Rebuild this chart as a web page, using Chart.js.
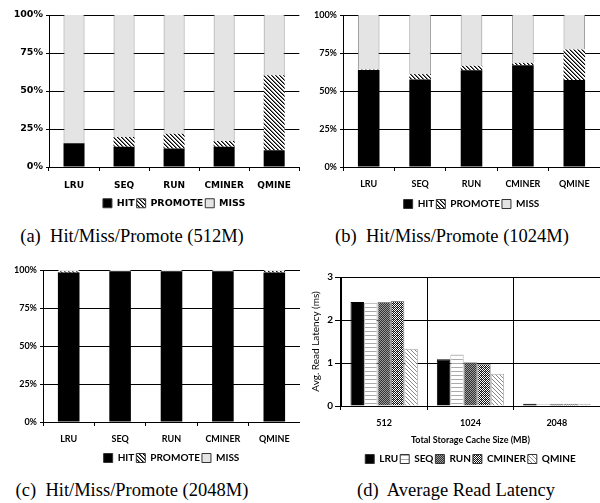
<!DOCTYPE html>
<html><head><meta charset="utf-8">
<script src="https://cdn.jsdelivr.net/npm/chart.js@4"></script>
<style>
body{margin:0;background:#fff;width:600px;height:503px;position:relative;overflow:hidden}
canvas{position:absolute}
.cap{position:absolute;font-family:"Liberation Serif","Times New Roman",serif;font-size:18.5px;color:#000;white-space:nowrap;transform:translate(-50%,-50%)}
</style></head><body>
<canvas id="ca" width="300" height="218" style="left:0;top:0"></canvas>
<canvas id="cb" width="300" height="219" style="left:300px;top:0"></canvas>
<canvas id="cc" width="300" height="218" style="left:0;top:255px"></canvas>
<canvas id="cd" width="300" height="219" style="left:300px;top:255px"></canvas>
<div class="cap" style="left:132px;top:236px">(a)&nbsp; Hit/Miss/Promote (512M)</div>
<div class="cap" style="left:452px;top:236px">(b)&nbsp; Hit/Miss/Promote (1024M)</div>
<div class="cap" style="left:132px;top:490px">(c)&nbsp; Hit/Miss/Promote (2048M)</div>
<div class="cap" style="left:456px;top:490px">(d)&nbsp; Average Read Latency</div>
<script>
// ---- data ----
const policies = ['LRU','SEQ','RUN','CMINER','QMINE'];
const pctTicks = ['0%','25%','50%','75%','100%'];
const hit512     = [15.6, 13.4, 12.1, 13.4, 11.0];
const promote512 = [0.0,  6.3,  9.8,  3.7, 49.3];
const miss512    = [84.4, 80.3, 78.1, 82.9, 39.7];
const hit1024     = [63.8, 57.6, 63.6, 67.0, 57.2];
const promote1024 = [0.3,  3.5,  3.0,  1.5, 20.1];
const miss1024    = [35.9, 38.9, 33.4, 31.5, 22.7];
const hit2048     = [98.3, 99.2, 99.2, 99.2, 98.4];
const promote2048 = [0.8,  0.0,  0.0,  0.0,  0.9];
const miss2048    = [0.9,  0.8,  0.8,  0.8,  0.7];
const cacheSizes = ['512','1024','2048'];
const latTicks = ['0','1','2','3'];
const latLRU    = [2.42, 1.09, 0.05];
const latSEQ    = [2.40, 1.20, 0.04];
const latRUN    = [2.42, 1.02, 0.05];
const latCMINER = [2.44, 0.98, 0.05];
const latQMINE  = [1.33, 0.75, 0.05];

// ---- patterns ----
function pat(w,h,draw){const c=document.createElement('canvas');c.width=w;c.height=h;const g=c.getContext('2d');draw(g);return g.createPattern(c,'repeat');}
const hatch = pat(4,4,g=>{g.fillStyle='#fff';g.fillRect(0,0,4,4);for(let i=0;i<4;i++){g.fillStyle='#000';g.fillRect(i,i,1,1);g.fillStyle='#777';g.fillRect((i+1)%4,i,1,1);}});
const seqPat = pat(4,4,g=>{g.fillStyle='#fff';g.fillRect(0,0,4,4);g.fillStyle='#aaa';g.fillRect(0,0,4,1);});
const runPat = pat(2,2,g=>{g.fillStyle='#9a9a9a';g.fillRect(0,0,2,2);g.fillStyle='#333';g.fillRect(0,0,1,1);g.fillRect(1,1,1,1);});
const cmPat = pat(4,4,g=>{g.fillStyle='#fff';g.fillRect(0,0,4,4);g.fillStyle='#111';g.fillRect(0,0,1,1);g.fillRect(2,0,1,1);g.fillRect(1,1,1,1);g.fillRect(3,1,1,1);g.fillRect(0,2,1,1);g.fillRect(2,2,1,1);g.fillRect(3,3,1,1);g.fillRect(1,3,1,1);g.fillStyle='#888';g.fillRect(1,0,1,1);});
const qPat = pat(4,4,g=>{g.fillStyle='#fff';g.fillRect(0,0,4,4);g.fillStyle='#888';for(let i=0;i<4;i++)g.fillRect(i,i,1,1);});

function genLabels(chart){
  const items = Chart.defaults.plugins.legend.labels.generateLabels(chart);
  items.forEach(it=>{it.lineWidth=1;it.strokeStyle='#333';});
  return items;
}

// horizontal grid lines at the y scale's tick positions, drawn in the gaps between the bars
const yGrid = {id:'ygrid', afterDraw(chart){
  const {ctx, chartArea:a} = chart; const y = chart.scales.y;
  const bars = chart.getDatasetMeta(0).data.map(el=>{const p=el.getProps(['x','width'],true);return [p.x-p.width/2, p.x+p.width/2];}).sort((m,n)=>m[0]-n[0]);
  const segs=[]; let cur=a.left;
  bars.forEach(b=>{segs.push([cur,b[0]]); cur=b[1];}); segs.push([cur,a.right]);
  ctx.save(); ctx.strokeStyle='#000'; ctx.lineWidth=1; ctx.setLineDash([]); ctx.globalAlpha=1; ctx.globalCompositeOperation='source-over';
  y.ticks.forEach(t=>{const py=Math.round(y.getPixelForValue(t.value))+0.5;
    ctx.beginPath(); segs.forEach(s=>{ctx.moveTo(s[0],py); ctx.lineTo(s[1],py);}); ctx.stroke();});
  ctx.restore();
}};

function hmp(id, hit, promote, miss, o){
  new Chart(document.getElementById(id), {
    type:'bar',
    data:{labels:policies, datasets:[
      {label:'HIT', data:hit, backgroundColor:'#000', borderWidth:0},
      {label:'PROMOTE', data:promote, backgroundColor:hatch, borderWidth:0},
      {label:'MISS', data:miss, backgroundColor:'#e4e4e4', borderColor:'#909090', borderWidth:{left:1,right:1,top:0,bottom:0}, borderSkipped:false}
    ]},
    plugins:[yGrid],
    options:{
      responsive:false, animation:false,
      layout:{padding:{top:15,left:0,right:0,bottom:0}},
      datasets:{bar:{categoryPercentage:1, barPercentage:0.42}},
      scales:{
        x:{stacked:true,
           grid:{display:true, drawOnChartArea:false, drawTicks:true, tickLength:4, color:'#000', offset:true},
           border:{display:true, color:'#000'},
           ticks:{font:o.xf, color:'#000', padding:o.xp, maxRotation:0},
           afterFit(s){s.height=o.xh;}},
        y:{stacked:true, min:0, max:100,
           grid:{display:true, drawOnChartArea:true, drawTicks:true, color:'#000', lineWidth:1, tickLength:3},
           border:{display:true, color:'#000'},
           ticks:{stepSize:25, font:o.yf, color:'#000', padding:3, callback:(v)=>o.yt[Math.round(v/25)]},
           afterFit(s){s.width=o.yw;}}
      },
      plugins:{
        legend:{position:'bottom', fullSize:false,
          labels:{boxWidth:9, boxHeight:9, padding:2, font:o.lf, color:'#000', generateLabels:genLabels}},
        tooltip:{enabled:false}
      }
    }
  });
}

const fA = {family:'DejaVu Sans', weight:'bold'};
const fB = {family:'Lato', weight:'bold'};
hmp('ca', hit512, promote512, miss512, {xf:{...fA,size:9}, yf:{...fA,size:9.5}, lf:{...fA,size:9.5}, xp:9, xh:29.5, yw:49, yt:pctTicks});
hmp('cb', hit1024, promote1024, miss1024, {xf:{...fB,size:9}, yf:{...fB,size:9}, lf:{...fB,size:10}, xp:8, xh:30, yw:43, yt:pctTicks});
hmp('cc', hit2048, promote2048, miss2048, {xf:{...fB,size:9}, yf:{...fB,size:9}, lf:{...fB,size:10}, xp:8, xh:29, yw:43, yt:pctTicks});

new Chart(document.getElementById('cd'), {
  type:'bar',
  data:{labels:cacheSizes, datasets:[
    {label:'LRU', data:latLRU, backgroundColor:'#000', borderColor:'#000', borderWidth:1},
    {label:'SEQ', data:latSEQ, backgroundColor:seqPat, borderColor:'#bbb', borderWidth:1},
    {label:'RUN', data:latRUN, backgroundColor:runPat, borderColor:'#888', borderWidth:1},
    {label:'CMINER', data:latCMINER, backgroundColor:cmPat, borderColor:'#888', borderWidth:1},
    {label:'QMINE', data:latQMINE, backgroundColor:qPat, borderColor:'#aaa', borderWidth:1}
  ]},
  options:{
    responsive:false, animation:false,
    layout:{padding:{top:22,left:0,right:0,bottom:0}},
    datasets:{bar:{categoryPercentage:0.78, barPercentage:1}},
    scales:{
      x:{grid:{display:true, drawOnChartArea:true, drawTicks:true, tickLength:4, color:'#000', offset:true},
         border:{display:true, color:'#000'},
         ticks:{font:{...fB,size:9}, color:'#000', padding:8, maxRotation:0},
         title:{display:true, text:'Total Storage Cache Size (MB)', font:{...fB,size:9}, color:'#000', padding:{top:0,bottom:7}},
         afterFit(s){s.height=46;}},
      y:{min:0, max:3,
         grid:{color:'#000', tickLength:6},
         border:{display:true, color:'#000'},
         ticks:{stepSize:1, font:{...fB,size:10}, color:'#000', padding:2, callback:(v)=>latTicks[v]},
         title:{display:true, text:'Avg. Read Latency (ms)', font:{family:'Lato', size:10}, color:'#000', padding:{top:10,bottom:0}},
         afterFit(s){s.width=41;}}
    },
    plugins:{
      legend:{position:'bottom', fullSize:false,
        labels:{boxWidth:9, boxHeight:9, padding:2, font:{...fB,size:10}, color:'#000', generateLabels:genLabels}},
      tooltip:{enabled:false}
    }
  }
});
</script>
</body></html>
